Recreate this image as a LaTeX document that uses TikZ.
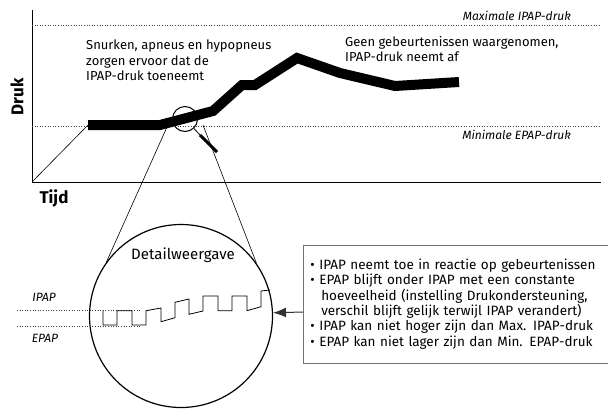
\documentclass[tikz,border=0pt]{standalone}
\usepackage{fontspec}
\setmainfont{Fira Sans}
\usepackage{tikz}
\usetikzlibrary{positioning, arrows.meta}

\begin{document}
\begin{tikzpicture}[x=1pt, y=-1pt, every node/.style={inner sep=0pt},
  note/.style={font=\fontsize{13}{15.5}\selectfont, align=left, anchor=north west},
  limit/.style={font=\fontsize{12}{13}\selectfont\itshape},
  axislbl/.style={font=\fontsize{17}{19}\selectfont\bfseries},
  guide/.style={dotted, line width=0.6pt, black!75},
  trend/.style={line width=10pt, miter limit=4},
  infobox/.style={draw=black!55, line width=0.9pt, anchor=west, text width=292pt,
    inner xsep=7pt, inner ysep=0pt, minimum height=118pt,
    font=\fontsize{13.5}{15.4}\selectfont, align=left}]
  \useasboundingbox (0,0) rectangle (608,408);

  \coordinate (o) at (32,182);
  \draw[line width=0.9pt] (32,10) -- (o) -- (601,182);
  \node[axislbl, rotate=90] (druk) at (17,97) {Druk};
  \node[axislbl] (tijd) at (54,198) {Tijd};

  \draw[guide] (32,25) -- (600,25);
  \draw[guide] (32,126) -- (600,126);
  \node[limit, anchor=east] (maxl) at (571,16) {Maximale IPAP-druk};
  \node[limit, anchor=east] (minl) at (571,135) {Minimale EPAP-druk};

  \coordinate (t0) at (88,125);
  \draw[line width=0.6pt] (o) -- (t0);
  \draw[trend] (t0) -- (160,125) -- (213,111) -- (242,85) -- (255,85) -- (297,58)
    -- (340,73) -- (395,86) -- (459,82);

  \node[note] (snurk) at (86,40) {Snurken, apneus en hypopneus\\zorgen ervoor dat de\\IPAP-druk toeneemt};
  \node[note] (geen) at (345,36) {Geen gebeurtenissen waargenomen,\\IPAP-druk neemt af};

  \node[circle, draw, line width=1pt, minimum size=25pt] (lens) at (185,119) {};
  \coordinate (h0) at (200,135);
  \coordinate (h1) at (217,152);
  \draw[line width=0.8pt] (lens.-47) -- (h0);
  \draw[line width=3pt] (h0) -- (h1);

  \node[circle, draw, line width=1.2pt, minimum size=183pt] (detail) at (181,316) {};
  \node[font=\fontsize{15}{17}\selectfont] (dtitle) at (183,255) {Detailweergave};
  \coordinate (zl) at (167,127);
  \coordinate (zr) at (203,125);
  \draw[line width=0.6pt] (zl) -- (detail.144);
  \draw[line width=0.6pt] (zr) -- (detail.35);

  \draw[guide] (17,310) -- (140,310);
  \draw[guide] (17,326) -- (140,326);
  \node[limit] (ipap) at (44,297) {IPAP};
  \node[limit] (epap) at (45,338) {EPAP};
  \draw[line width=0.8pt] (103,310.7) -- (103,325) -- (117,325) -- (117,310.7) -- (132,310.7)
    -- (132,325) -- (146,325) -- (146,310.7) -- (161,308) -- (161,321.7) -- (175,317.7)
    -- (175,302.3) -- (189,299) -- (189,314.3) -- (203,311) -- (203,296) -- (218,296)
    -- (218,310.7) -- (232,310.7) -- (232,296) -- (247,296) -- (247,310.7) -- (261,306.7)
    -- (261,291) -- (270,290);

  \node[infobox] (info) at (303,304) {%
    \textbullet\ IPAP neemt toe in reactie op gebeurtenissen\\
    \textbullet\ EPAP blijft onder IPAP met een constante\\
    \hspace*{0.8em}hoeveelheid (instelling Drukondersteuning,\\
    \hspace*{0.8em}verschil blijft gelijk terwijl IPAP verandert)\\
    \textbullet\ IPAP kan niet hoger zijn dan Max. IPAP-druk\\
    \textbullet\ EPAP kan niet lager zijn dan Min. EPAP-druk};
  \draw[-{Latex[length=13pt, width=10pt]}, line width=1pt, black!80] ([yshift=-8pt]info.west) -- (detail.2.5);
\end{tikzpicture}
\end{document}
